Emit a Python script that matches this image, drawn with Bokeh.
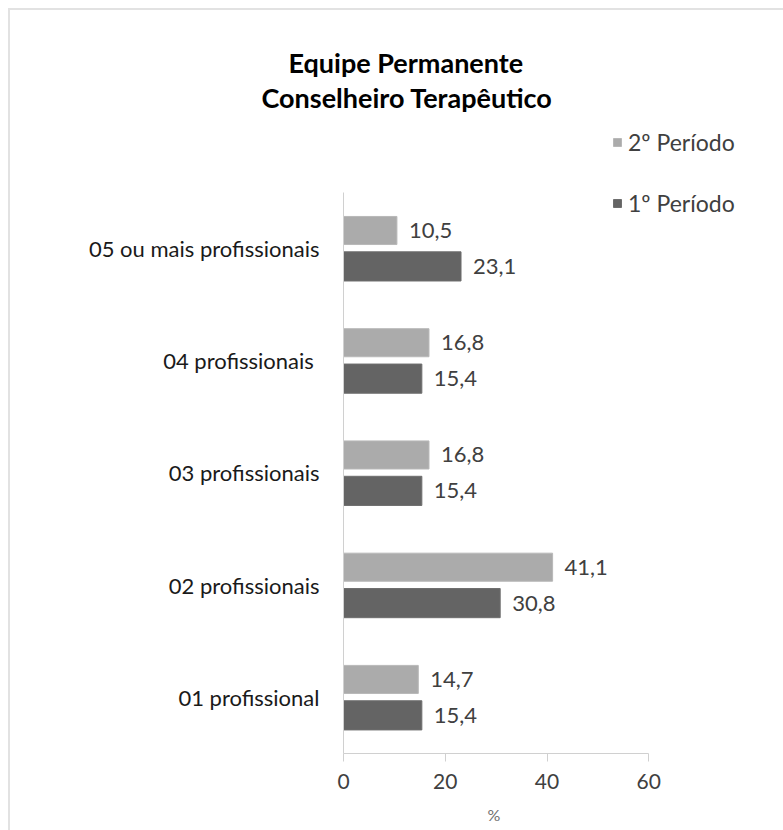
from bokeh.plotting import figure
from bokeh.models import (ColumnDataSource, LabelSet, Legend, LegendItem, FixedTicker,
                          Range1d, Title)
from bokeh.core.properties import value
from bokeh.embed import file_html
from bokeh.resources import INLINE

categories = ["01 profissional", "02 profissionais", "03 profissionais",
              "04  profissionais", "05 ou mais profissionais"]
periodo2 = [14.7, 41.1, 16.8, 16.8, 10.5]
periodo1 = [15.4, 30.8, 15.4, 15.4, 23.1]
series_names = ["2º Período", "1º Período"]
x_ticks = [0, 20, 40, 60]
title_lines = ["Equipe Permanente", "Conselheiro Terapêutico"]
x_label = "%"

def fmt(v):
    return f"{v:.1f}".replace(".", ",")

pos = list(range(len(categories)))
OFF = 0.16
src = ColumnDataSource(dict(
    y2=[i + OFF for i in pos], y1=[i - OFF for i in pos],
    p2=periodo2, p1=periodo1,
    l2=[fmt(v) for v in periodo2], l1=[fmt(v) for v in periodo1],
))

FONT = "Lato"
LIGHT = "#ABABAB"
DARK = "#646464"

p = figure(x_range=Range1d(0, 80), y_range=Range1d(-0.5, 5.14),
           frame_width=407, frame_height=633,
           min_border_left=333, min_border_top=110, min_border_right=33, min_border_bottom=77,
           output_backend="svg", toolbar_location=None)
p.margin = (8, 0, 0, 8)
p.styles = {"border": "2px solid #E2E2E2"}
p.outline_line_color = None
p.xgrid.visible = False
p.ygrid.visible = False

r2 = p.hbar(y="y2", right="p2", height=0.25, source=src,
            fill_color=LIGHT, line_color="#B8B8B8")
r1 = p.hbar(y="y1", right="p1", height=0.26, source=src,
            fill_color=DARK, line_color="#6E6E6E")

for col, ycol, lab in (("p2", "y2", "l2"), ("p1", "y1", "l1")):
    p.add_layout(LabelSet(x=col, y=ycol, text=lab, source=src,
                          x_offset=12, text_baseline="middle", text_font=value(FONT),
                          text_font_size="22px", text_color="#404040"))

p.xaxis.ticker = FixedTicker(ticks=x_ticks)
p.xaxis.bounds = (x_ticks[0], x_ticks[-1])
p.xaxis.minor_tick_line_color = None
p.xaxis.major_tick_out = 8
p.xaxis.major_tick_in = 0
p.xaxis.axis_line_color = "#D0D0D0"
p.xaxis.major_tick_line_color = "#D0D0D0"
p.xaxis.major_label_text_font = FONT
p.xaxis.major_label_text_font_size = "21px"
p.xaxis.major_label_text_color = "#404040"
p.xaxis.major_label_standoff = 12

p.add_layout(Title(text=x_label, align="left", offset=144, text_font=FONT,
                   text_font_style="normal", text_font_size="16px", text_color="#707070",
                   standoff=22), "below")

p.yaxis.ticker = FixedTicker(ticks=pos)
p.yaxis.major_label_overrides = {i: c for i, c in zip(pos, categories)}
p.yaxis.bounds = (-0.5, len(categories) - 0.5)
p.yaxis.major_tick_line_color = None
p.yaxis.minor_tick_line_color = None
p.yaxis.axis_line_color = "#D0D0D0"
p.yaxis.major_label_text_font = FONT
p.yaxis.major_label_text_font_size = "22px"
p.yaxis.major_label_text_color = "#1A1A1A"
p.yaxis.major_label_standoff = 18

for t, off, so in zip(reversed(title_lines), (-82, -55), (14, -14)):
    p.add_layout(Title(text=t, align="left", offset=off, text_font=FONT,
                       text_font_style="bold", text_font_size="27px", text_color="#000000",
                       standoff=so), "above")

legend = Legend(items=[LegendItem(label=series_names[0], renderers=[r2]),
                       LegendItem(label=series_names[1], renderers=[r1])],
                location=(269, 536), glyph_width=10, glyph_height=10, label_height=20,
                spacing=33, padding=0, margin=0, label_standoff=6,
                label_text_font=FONT, label_text_font_size="23px", label_text_color="#404040",
                border_line_color=None, background_fill_alpha=0)
p.add_layout(legend)

open("out.html", "w").write(file_html(p, INLINE))
